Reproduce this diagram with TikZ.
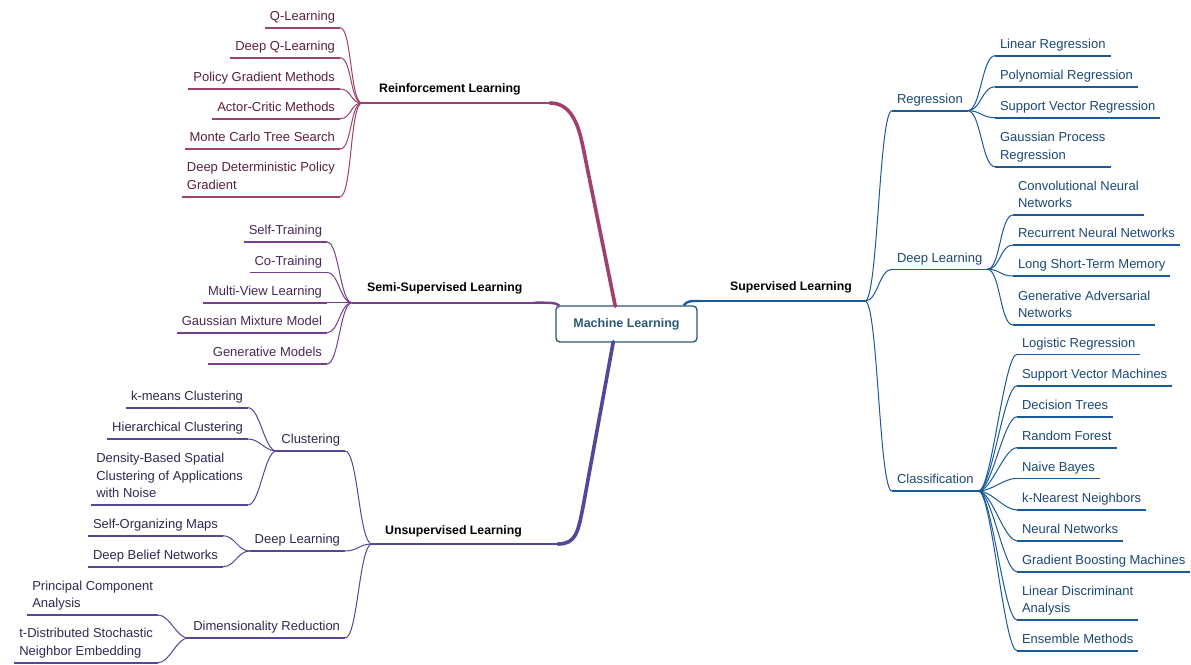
\documentclass[tikz,border=0pt]{standalone}
\usepackage{fontspec}
\setmainfont{Liberation Sans}
\usepackage{xcolor}
\usetikzlibrary{calc}
\definecolor{mlbox}{RGB}{43,90,120}
\definecolor{rlline}{RGB}{160,64,110}
\definecolor{rltext}{RGB}{92,32,64}
\definecolor{ssline}{RGB}{122,60,140}
\definecolor{sstext}{RGB}{76,40,88}
\definecolor{ulline}{RGB}{80,72,152}
\definecolor{ultext}{RGB}{46,42,82}
\definecolor{slline}{RGB}{26,90,155}
\definecolor{sltext}{RGB}{28,72,118}

\tikzset{
  leaf/.style={inner xsep=5pt, inner ysep=3.8pt, outer sep=0pt, align=left,
    font=\fontsize{13}{17.5}\selectfont,
    execute at end node={\vrule width 0pt depth 3.5pt height 0pt}},
  leafL/.style={leaf, anchor=south east},
  leafR/.style={leaf, anchor=south west},
  topic/.style={anchor=base west, inner sep=0pt, font=\fontsize{12.3}{15}\selectfont\bfseries},
  uline/.style={line width=1.6pt},
  twig/.style={line width=1pt},
  trunk/.style={line width=2.2pt},
  limb/.style={line width=3.6pt, line cap=round},
  limbthin/.style={line width=2.4pt},
}

\begin{document}
\begin{tikzpicture}[x=1pt, y=-1pt]
\path[use as bounding box, fill=white] (0,0) rectangle (1191,664);

% centre
\node[draw=mlbox, line width=1.4pt, rounded corners=4pt, fill=white,
  minimum width=141pt, minimum height=36pt, text=mlbox,
  font=\fontsize{12.5}{15}\selectfont\bfseries] (ml) at (626.5,324) {Machine Learning};
\coordinate (rlroot) at ($(ml.north west)+(60,1)$);
\coordinate (ssroot) at ($(ml.north west)+(4,0)$);
\coordinate (ulroot) at ($(ml.south west)+(58,-1)$);
\coordinate (slroot) at ($(ml.north east)+(-14,0)$);

% reinforcement learning
\coordinate (rlhub) at (362,103);
\coordinate (rlend) at (550,103);
\coordinate (rlbend) at (583,147);
\node[topic] (rl) at (379,92.7) {Reinforcement Learning};
\node[leafL, text=rltext] (rl1) at (340,27.7) {Q-Learning};
\node[leafL, text=rltext] (rl2) at (340,57.7) {Deep Q-Learning};
\node[leafL, text=rltext] (rl3) at (340,89) {Policy Gradient Methods};
\node[leafL, text=rltext] (rl4) at (340,118.7) {Actor-Critic Methods};
\node[leafL, text=rltext] (rl5) at (340,149) {Monte Carlo Tree Search};
\node[leafL, text=rltext] (rl6) at (340,196.7) {Deep Deterministic Policy\\Gradient};
\foreach \i in {1,...,6} {
  \draw[uline, rlline] (rl\i.south west) -- (rl\i.south east);
  \draw[twig, rlline] (rl\i.south east) .. controls +(12,0) and +(-12,0) .. (rlhub);
}
\draw[trunk, rlline] (rlhub) -- (rlend);
\draw[limb, rlline] (rlend) .. controls +(20,0) and +(-5,-25) .. (rlbend) -- (rlroot);

% semi-supervised learning
\coordinate (sshub) at (352,302.7);
\coordinate (ssend) at (533,302.7);
\node[topic] (ss) at (367,291.6) {Semi-Supervised Learning};
\node[leafL, text=sstext] (ss1) at (327,242) {Self-Training};
\node[leafL, text=sstext] (ss2) at (327,272.3) {Co-Training};
\node[leafL, text=sstext] (ss3) at (327,302.7) {Multi-View Learning};
\node[leafL, text=sstext] (ss4) at (327,332.7) {Gaussian Mixture Model};
\node[leafL, text=sstext] (ss5) at (327,364) {Generative Models};
\foreach \i in {1,...,5} {
  \draw[uline, ssline] (ss\i.south west) -- (ss\i.south east);
  \draw[twig, ssline] (ss\i.south east) .. controls +(12,0) and +(-12,0) .. (sshub);
}
\draw[trunk, ssline] (sshub) -- (ssend);
\draw[limbthin, ssline] (ssend) .. controls +(16,0) and +(-5,-3) .. (ssroot);

% unsupervised learning
\coordinate (ulhub) at (372,544);
\coordinate (ulend) at (558,544);
\coordinate (ulbend) at (583,507);
\node[topic] (ul) at (385,534.6) {Unsupervised Learning};
\node[leafL, text=ultext] (cl) at (345,451) {Clustering};
\node[leafL, text=ultext] (udl) at (345,551) {Deep Learning};
\node[leafL, text=ultext] (dr) at (345,638) {Dimensionality Reduction};
\node[leafL, text=ultext] (cl1) at (248,407.7) {k-means Clustering};
\node[leafL, text=ultext] (cl2) at (248,439) {Hierarchical Clustering};
\node[leafL, text=ultext] (cl3) at (248,505) {Density-Based Spatial\\Clustering of Applications\\with Noise};
\node[leafL, text=ultext] (udl1) at (223,535.7) {Self-Organizing Maps};
\node[leafL, text=ultext] (udl2) at (223,566.7) {Deep Belief Networks};
\node[leafL, text=ultext] (dr1) at (158,615) {Principal Component\\Analysis};
\node[leafL, text=ultext] (dr2) at (158,662.7) {t-Distributed Stochastic\\Neighbor Embedding};
\foreach \m/\k in {cl/3, udl/2, dr/2} {
  \draw[uline, ulline] (\m.south west) -- (\m.south east);
  \draw[twig, ulline] (\m.south east) .. controls +(13,0) and +(-13,0) .. (ulhub);
  \foreach \i in {1,...,\k} {
    \draw[uline, ulline] (\m\i.south west) -- (\m\i.south east);
    \draw[twig, ulline] (\m\i.south east) .. controls +(12,0) and +(-12,0) .. (\m.south west);
  }
}
\draw[trunk, ulline] (ulhub) -- (ulend);
\draw[limb, ulline] (ulroot) -- (ulbend) .. controls +(-5,25) and +(18,0) .. (ulend);

% supervised learning
\coordinate (slhub) at (865,301);
\coordinate (slend) at (700,301);
\node[topic] (sl) at (730,290.6) {Supervised Learning};
\node[leafR, text=sltext] (reg) at (892,110.7) {Regression};
\node[leafR, text=sltext] (sdl) at (892,269.3) {Deep Learning};
\node[leafR, text=sltext] (cls) at (892,491) {Classification};
\node[leafR, text=sltext] (reg1) at (995,55.7) {Linear Regression};
\node[leafR, text=sltext] (reg2) at (995,86.7) {Polynomial Regression};
\node[leafR, text=sltext] (reg3) at (995,117.7) {Support Vector Regression};
\node[leafR, text=sltext] (reg4) at (995,166.7) {Gaussian Process\\Regression};
\node[leafR, text=sltext] (sdl1) at (1013,215) {Convolutional Neural\\Networks};
\node[leafR, text=sltext] (sdl2) at (1013,245) {Recurrent Neural Networks};
\node[leafR, text=sltext] (sdl3) at (1013,276) {Long Short-Term Memory};
\node[leafR, text=sltext] (sdl4) at (1013,325) {Generative Adversarial\\Networks};
\node[leafR, text=sltext] (cls1) at (1017,354.3) {Logistic Regression};
\node[leafR, text=sltext] (cls2) at (1017,385.7) {Support Vector Machines};
\node[leafR, text=sltext] (cls3) at (1017,416.7) {Decision Trees};
\node[leafR, text=sltext] (cls4) at (1017,447.7) {Random Forest};
\node[leafR, text=sltext] (cls5) at (1017,478.3) {Naive Bayes};
\node[leafR, text=sltext] (cls6) at (1017,510) {k-Nearest Neighbors};
\node[leafR, text=sltext] (cls7) at (1017,540.7) {Neural Networks};
\node[leafR, text=sltext] (cls8) at (1017,571.7) {Gradient Boosting Machines};
\node[leafR, text=sltext] (cls9) at (1017,620) {Linear Discriminant\\Analysis};
\node[leafR, text=sltext] (cls10) at (1017,650.7) {Ensemble Methods};
\foreach \m/\k in {reg/4, sdl/4, cls/10} {
  \draw[uline, slline] (\m.south west) -- (\m.south east);
  \draw[twig, slline] (slhub) .. controls +(13,0) and +(-13,0) .. (\m.south west);
  \foreach \i in {1,...,\k} {
    \draw[uline, slline] (\m\i.south west) -- (\m\i.south east);
    \draw[twig, slline] (\m.south east) .. controls +(13,0) and +(-13,0) .. (\m\i.south west);
  }
}
\draw[trunk, slline] (slend) -- (slhub);
\draw[limbthin, slline] (slroot) .. controls +(4,-5) and +(-8,0) .. (slend);
\end{tikzpicture}
\end{document}
